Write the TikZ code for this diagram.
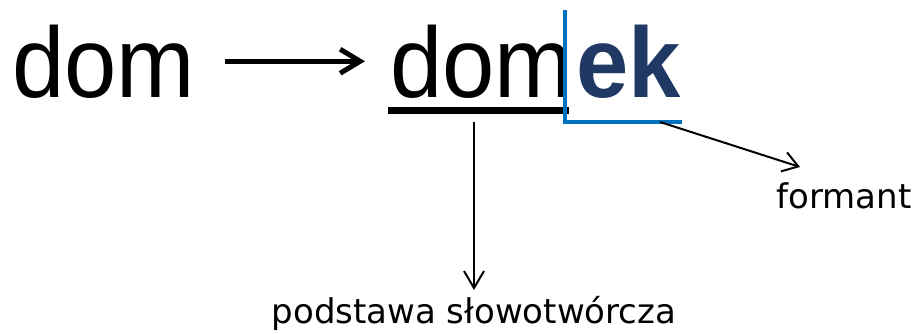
\documentclass[tikz,border=0pt]{standalone}
\usepackage{graphicx}
\usepackage{fontspec}
\setmainfont{DejaVu Sans}
\newfontfamily\wordfont{Liberation Sans}
\usetikzlibrary{arrows.meta, positioning}
\definecolor{suffixblue}{RGB}{31,56,100}
\definecolor{markblue}{RGB}{0,112,192}
\newcommand{\bigword}[1]{\scalebox{0.94}[1]{\wordfont\fontsize{100}{104}\selectfont #1}}

\begin{document}
\begin{tikzpicture}[x=1pt, y=-1pt, thick,
    word/.style={inner sep=0pt, anchor=base west},
    caption/.style={inner sep=0pt, font=\fontsize{34}{38}\selectfont}]
    \useasboundingbox (0,0) rectangle (921,333);

    \node[word] (dom) at (12, 97) {\bigword{dom}};
    \node[word] (stem) at (390, 97) {\bigword{dom}};
    \node[word, text=suffixblue] (ek) at ([xshift=2pt]stem.base east) {\bigword{\bfseries ek}};

    \node[caption, anchor=base] (podstawa) at (474, 323) {podstawa słowotwórcza};
    \node[caption, anchor=base west] (formant) at (776, 208) {formant};

    \coordinate (underleft) at (388, 110);
    \coordinate (underright) at (569, 110);
    \coordinate (bartop) at (565, 10);
    \coordinate (barcorner) at (565, 122);
    \coordinate (barright) at (682, 122);
    \coordinate (stemfoot) at (474, 122);
    \coordinate (ekfoot) at (660, 122);
    \coordinate (formanthead) at (800, 167);

    % underline and bracket
    \draw[line width=7pt] (underleft) -- (underright);
    \draw[markblue, line width=4pt] (bartop) -- (barcorner) -- (barright);

    \draw[line width=5pt, -{Straight Barb[length=20pt, width=24pt]},
        shorten <=29pt, shorten >=25pt] (dom.east) -- (stem.west);
    \draw[line width=2pt, -{Straight Barb[length=17pt, width=20pt]}]
        (stemfoot) -- (podstawa.north |- 0,290);
    \draw[line width=2pt, -{Straight Barb[length=15pt, width=20pt]}]
        (ekfoot) -- (formanthead);
\end{tikzpicture}
\end{document}
